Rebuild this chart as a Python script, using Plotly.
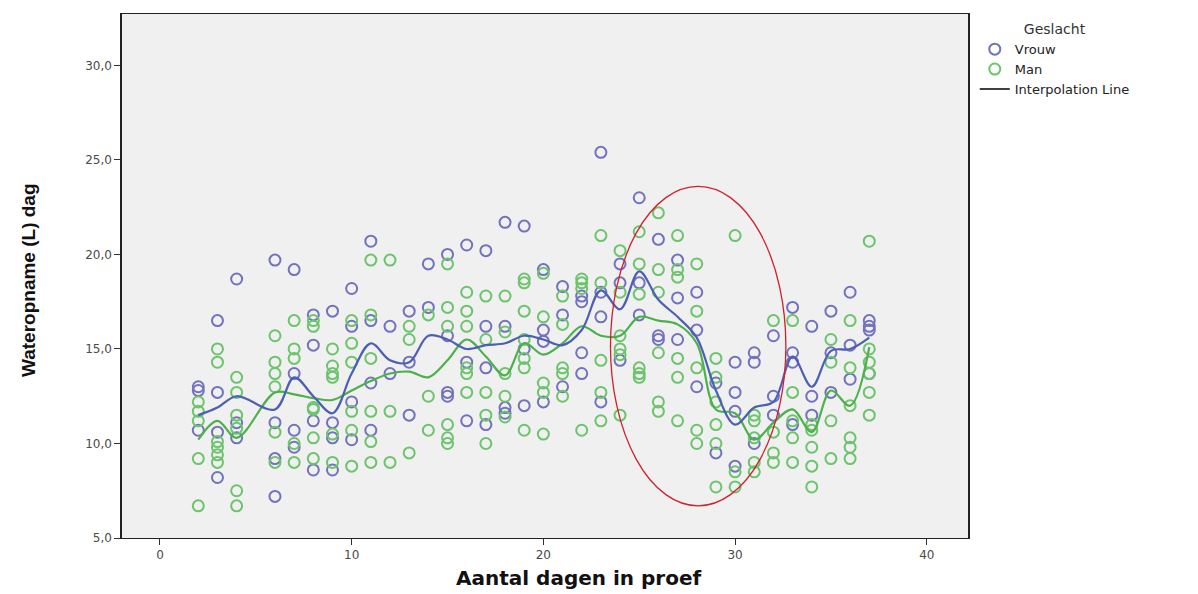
import plotly.graph_objects as go

# Individuele metingen per dier: dag in proef en wateropname (L/dag)
vrouw_dag = (
    [2, 2, 2] + [3, 3, 3, 3] + [4, 4, 4] + [6, 6, 6, 6] + [7, 7, 7, 7]
    + [8, 8, 8, 8] + [9, 9, 9, 9] + [10, 10, 10, 10] + [11, 11, 11, 11]
    + [12, 12] + [13, 13, 13] + [14, 14] + [15, 15, 15, 15] + [16, 16, 16]
    + [17, 17, 17, 17] + [18, 18, 18, 18] + [19, 19, 19] + [20, 20, 20, 20]
    + [21, 21, 21] + [22, 22, 22, 22] + [23, 23, 23, 23] + [24, 24, 24]
    + [25, 25, 25] + [26, 26, 26] + [27, 27, 27] + [28, 28, 28] + [29, 29]
    + [30, 30, 30, 30] + [31, 31, 31] + [32, 32, 32] + [33, 33, 33, 33]
    + [34, 34, 34] + [35, 35, 35] + [36, 36, 36] + [37, 37, 37, 37]
)
vrouw_water = (
    [13.0, 12.8, 10.7] + [16.5, 12.7, 10.6, 8.2] + [18.7, 11.1, 10.3]
    + [19.7, 11.1, 9.2, 7.2] + [19.2, 13.7, 10.7, 9.8]
    + [16.8, 15.2, 11.2, 8.6] + [17.0, 11.1, 10.3, 8.6]
    + [18.2, 16.2, 12.2, 10.2] + [20.7, 16.5, 13.2, 10.7]
    + [16.2, 13.7] + [17.0, 14.3, 11.5] + [19.5, 17.2]
    + [20.0, 15.7, 12.7, 12.5] + [20.5, 14.3, 11.2]
    + [20.2, 16.2, 14.0, 11.0] + [21.7, 16.2, 11.9, 11.6]
    + [21.5, 15.0, 12.0] + [19.2, 16.0, 15.4, 12.2]
    + [18.3, 16.8, 13.0] + [17.8, 17.5, 14.8, 13.7]
    + [25.4, 18.0, 16.7, 12.2] + [19.5, 18.5, 14.4]
    + [23.0, 18.5, 16.8] + [20.8, 15.7, 15.5] + [19.7, 17.7, 15.5]
    + [18.0, 16.0, 13.0] + [13.2, 9.5] + [14.3, 12.7, 11.7, 8.8]
    + [14.8, 14.3, 10.0] + [15.7, 12.5, 11.5] + [17.2, 14.8, 14.3, 11.0]
    + [16.2, 12.5, 11.5] + [17.0, 14.8, 12.7] + [18.0, 15.2, 13.4]
    + [16.5, 16.2, 16.0, 13.7]
)

man_dag = (
    [2, 2, 2, 2, 2] + [3, 3, 3, 3, 3, 3] + [4, 4, 4, 4, 4, 4]
    + [6, 6, 6, 6, 6, 6] + [7, 7, 7, 7, 7] + [8, 8, 8, 8, 8, 8]
    + [9, 9, 9, 9, 9, 9] + [10, 10, 10, 10, 10, 10] + [11, 11, 11, 11, 11, 11]
    + [12, 12, 12] + [13, 13, 13] + [14, 14, 14] + [15, 15, 15, 15, 15, 15]
    + [16, 16, 16, 16, 16, 16] + [17, 17, 17, 17, 17] + [18, 18, 18, 18, 18]
    + [19, 19, 19, 19, 19, 19, 19] + [20, 20, 20, 20, 20] + [21, 21, 21, 21, 21]
    + [22, 22, 22, 22] + [23, 23, 23, 23, 23] + [24, 24, 24, 24, 24, 24]
    + [25, 25, 25, 25, 25, 25] + [26, 26, 26, 26, 26, 26]
    + [27, 27, 27, 27, 27, 27] + [28, 28, 28, 28, 28]
    + [29, 29, 29, 29, 29, 29] + [30, 30, 30] + [31, 31, 31, 31, 31]
    + [32, 32, 32, 32] + [33, 33, 33, 33, 33] + [34, 34, 34, 34, 34]
    + [35, 35, 35, 35] + [36, 36, 36, 36, 36, 36] + [37, 37, 37, 37, 37, 37]
)
man_water = (
    [12.2, 11.7, 11.2, 9.2, 6.7] + [15.0, 14.3, 10.1, 9.8, 9.4, 9.0]
    + [13.5, 12.7, 11.5, 10.8, 7.5, 6.7] + [15.7, 14.3, 13.7, 13.0, 10.6, 9.0]
    + [16.5, 15.0, 14.5, 10.0, 9.0] + [16.5, 16.2, 11.9, 11.8, 10.3, 9.2]
    + [15.0, 14.1, 13.7, 13.5, 10.5, 9.0] + [16.5, 15.3, 14.3, 11.7, 10.7, 8.8]
    + [19.7, 16.8, 14.5, 11.7, 10.1, 9.0] + [19.7, 11.7, 9.0]
    + [16.2, 15.5, 9.5] + [16.8, 12.5, 10.7]
    + [19.5, 17.2, 16.2, 11.0, 10.3, 10.0] + [18.0, 17.0, 16.2, 14.0, 13.7, 12.7]
    + [17.8, 15.5, 12.7, 11.5, 10.0] + [17.8, 15.9, 13.7, 12.5, 11.4]
    + [18.7, 18.5, 17.0, 15.5, 14.5, 14.0, 10.7] + [19.0, 16.7, 13.2, 12.7, 10.5]
    + [17.8, 16.3, 14.0, 13.7, 12.5] + [18.7, 18.5, 18.2, 10.7]
    + [21.0, 18.5, 14.4, 12.7, 11.2] + [20.2, 18.0, 15.7, 15.0, 14.7, 11.5]
    + [21.2, 19.5, 17.9, 14.0, 13.7, 13.5] + [22.2, 19.2, 18.0, 14.8, 12.2, 11.7]
    + [21.0, 19.2, 18.8, 14.5, 13.5, 11.2] + [19.5, 17.0, 14.0, 10.7, 10.0]
    + [14.5, 13.5, 12.2, 11.0, 10.0, 7.7] + [21.0, 8.5, 7.7]
    + [11.5, 11.2, 10.3, 9.0, 8.5] + [16.5, 10.6, 9.5, 9.0]
    + [16.5, 12.7, 11.2, 10.3, 9.0] + [11.0, 10.7, 9.8, 8.8, 7.7]
    + [15.5, 14.3, 11.2, 9.2] + [16.5, 14.0, 12.0, 10.3, 9.8, 9.2]
    + [20.7, 15.0, 14.3, 13.7, 12.7, 11.5]
)

# Interpolatielijn per geslacht (knooppunten per dag)
lijn_dag = [2, 3, 4, 6, 7, 8, 9, 10, 11, 12, 13, 14, 15, 16, 17, 18, 19, 20,
            21, 22, 23, 24, 25, 26, 27, 28, 29, 30, 31, 32, 33, 34, 35, 36, 37]
lijn_vrouw = [11.5, 11.9, 12.5, 11.8, 13.5, 12.5, 11.6, 13.7, 15.3, 14.4, 14.3,
              15.7, 15.5, 15.0, 15.2, 15.3, 15.7, 15.5, 15.2, 16.0, 18.1, 17.1,
              19.1, 17.6, 16.7, 15.6, 12.8, 11.0, 11.9, 12.2, 14.6, 13.0, 14.9,
              15.0, 15.6]
lijn_man = [10.2, 11.2, 10.3, 12.7, 12.6, 12.4, 12.3, 12.8, 13.3, 13.7, 13.8,
            13.5, 14.4, 15.5, 14.6, 13.6, 15.3, 14.7, 15.3, 16.2, 15.7, 15.7,
            16.7, 16.5, 16.3, 15.3, 11.8, 11.6, 10.2, 11.1, 11.8, 10.6, 12.8,
            12.0, 15.1]

y_ticks = [5, 10, 15, 20, 25, 30]
y_tick_labels = ["5,0", "10,0", "15,0", "20,0", "25,0", "30,0"]
x_ticks = [0, 10, 20, 30, 40]

KLEUR_VROUW = "#7272bd"
KLEUR_MAN = "#6cc46c"
LIJN_VROUW = "#4b60b2"
LIJN_MAN = "#4cb04c"

fig = go.Figure()

fig.add_trace(go.Scatter(
    x=vrouw_dag, y=vrouw_water, mode="markers", name="Vrouw",
    marker=dict(symbol="circle-open", size=11, color=KLEUR_VROUW,
                line=dict(width=2, color=KLEUR_VROUW)),
))
fig.add_trace(go.Scatter(
    x=man_dag, y=man_water, mode="markers", name="Man",
    marker=dict(symbol="circle-open", size=11, color=KLEUR_MAN,
                line=dict(width=2, color=KLEUR_MAN)),
))
fig.add_trace(go.Scatter(
    x=lijn_dag, y=lijn_man, mode="lines", showlegend=False,
    line=dict(color=LIJN_MAN, width=2.2, shape="spline", smoothing=1.0),
))
fig.add_trace(go.Scatter(
    x=lijn_dag, y=lijn_vrouw, mode="lines", showlegend=False,
    line=dict(color=LIJN_VROUW, width=2.2, shape="spline", smoothing=1.0),
))
# legend entry for the interpolation lines
fig.add_trace(go.Scatter(
    x=[None], y=[None], mode="lines", name="Interpolation Line",
    line=dict(color="black", width=1.5),
))

# markering van de dip rond dag 28
fig.add_shape(type="circle", xref="x", yref="y",
              x0=23.5, x1=32.65, y0=6.7, y1=23.6,
              line=dict(color="#d0202c", width=1.3))

tick_font = dict(family="DejaVu Sans", size=12, color="#4a4a4a")

fig.update_xaxes(
    range=[-1.98, 42.15], tickvals=x_ticks, ticks="outside", ticklen=6,
    tickwidth=1, tickcolor="#333333", tickfont=tick_font,
    showgrid=False, zeroline=False, showline=True, linecolor="#222222",
    linewidth=1, mirror=True,
)
fig.update_yaxes(
    range=[5, 32.72], tickvals=y_ticks, ticktext=y_tick_labels,
    ticks="outside", ticklen=6, tickwidth=1, tickcolor="#333333",
    tickfont=tick_font, showgrid=False, zeroline=False, showline=True,
    linecolor="#222222", linewidth=1.5, mirror=True,
)

fig.add_annotation(
    text="<b>Aantal dagen in proef</b>", xref="paper", yref="paper",
    x=(579 - 122) / 846, y=-(578 - 538) / 524, xanchor="center", yanchor="middle",
    showarrow=False, font=dict(family="DejaVu Sans", size=20, color="#111111"),
)
fig.add_annotation(
    text="<b>Wateropname (L) dag</b>", xref="paper", yref="paper",
    x=-(122 - 28) / 846, y=(538 - 280) / 524, xanchor="center", yanchor="middle",
    textangle=-90, showarrow=False,
    font=dict(family="Liberation Sans Narrow, Liberation Sans, sans-serif",
              size=19, color="#111111"),
)

fig.update_layout(
    width=1198, height=594,
    margin=dict(l=122, r=230, t=14, b=56),
    paper_bgcolor="white", plot_bgcolor="#f0f0f0",
    showlegend=True,
    legend=dict(
        x=(968 - 122) / 846 + 0.008, y=(538 - 16) / 524,
        xanchor="left", yanchor="top",
        title=dict(text="Geslacht", side="top center",
                   font=dict(family="DejaVu Sans", size=14, color="#333333")),
        font=dict(family="DejaVu Sans", size=13, color="#222222"),
        bgcolor="rgba(0,0,0,0)", tracegroupgap=0, itemwidth=30,
    ),
)

fig.write_html("out.html")
